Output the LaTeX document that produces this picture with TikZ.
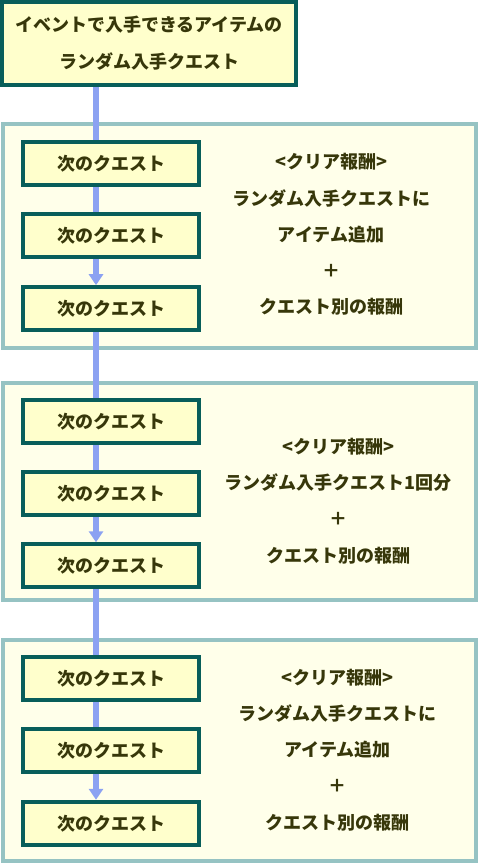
\documentclass[tikz,border=0pt]{standalone}
\usepackage{fontspec}
\newfontfamily\jp{Noto Sans CJK JP}
\usetikzlibrary{arrows.meta}
\definecolor{boxedge}{RGB}{8,94,90}
\definecolor{boxfill}{RGB}{255,255,204}
\definecolor{paneledge}{RGB}{150,195,195}
\definecolor{panelfill}{RGB}{255,255,234}
\definecolor{flowblue}{RGB}{140,162,242}
\definecolor{txt}{RGB}{55,55,10}
\begin{document}
\begin{tikzpicture}[x=1pt,y=-1pt,
  quest/.style={draw=boxedge,line width=4pt,fill=boxfill,minimum width=176pt,minimum height=43pt,inner sep=0pt,font=\jp\bfseries\fontsize{18}{20}\selectfont,text=txt},
  topbox/.style={draw=boxedge,line width=4pt,fill=boxfill,minimum width=294pt,minimum height=83pt,inner sep=0pt,align=center,font=\jp\bfseries\fontsize{18}{37}\selectfont,text=txt},
  panel/.style={draw=paneledge,line width=4pt,fill=panelfill},
  flow/.style={draw=flowblue,line width=5.5pt},
  flowarrow/.style={flow,-{Triangle[width=14pt,length=11pt]}},
  note/.style={align=center,font=\jp\bfseries\fontsize{18}{36.2}\selectfont,text=txt,inner sep=0pt}]
\useasboundingbox (0,0) rectangle (479,864);
\fill[white] (0,0) rectangle (479,864);
% panels
\path[panel] (3,124) rectangle (476,348);
\path[panel] (3,383) rectangle (476,600);
\path[panel] (3,640) rectangle (476,861);
% top box
\node[topbox] (top) at (149,43.5) {イベントで入手できるアイテムの\\ランダム入手クエスト};
% quest boxes
\node[quest] (p1a) at (111,163.5) {次のクエスト};
\node[quest] (p1b) at (111,235.7) {次のクエスト};
\node[quest] (p1c) at (111,308.7) {次のクエスト};
\node[quest] (p2a) at (111,421.7) {次のクエスト};
\node[quest] (p2b) at (111,493.3) {次のクエスト};
\node[quest] (p2c) at (111,565.8) {次のクエスト};
\node[quest] (p3a) at (111,678.3) {次のクエスト};
\node[quest] (p3b) at (111,750.3) {次のクエスト};
\node[quest] (p3c) at (111,823.3) {次のクエスト};
% notes
\node[note] (n1) at (331,234.5) {<クリア報酬>\\ランダム入手クエストに\\アイテム追加\\＋\\クエスト別の報酬};
\node[note] (n2) at (338,501) {<クリア報酬>\\ランダム入手クエスト1回分\\＋\\クエスト別の報酬};
\node[note] (n3) at (337.5,750) {<クリア報酬>\\ランダム入手クエストに\\アイテム追加\\＋\\クエスト別の報酬};
% flow
\coordinate (lx) at (96,0);
\draw[flow] (top.south -| lx) -- (p1a.north -| lx);
\draw[flow] (p1a.south -| lx) -- (p1b.north -| lx);
\draw[flowarrow] (p1b.south -| lx) -- (p1c.north -| lx);
\draw[flow] (p1c.south -| lx) -- (p2a.north -| lx);
\draw[flow] (p2a.south -| lx) -- (p2b.north -| lx);
\draw[flowarrow] (p2b.south -| lx) -- (p2c.north -| lx);
\draw[flow] (p2c.south -| lx) -- (p3a.north -| lx);
\draw[flow] (p3a.south -| lx) -- (p3b.north -| lx);
\draw[flowarrow] (p3b.south -| lx) -- (p3c.north -| lx);
\end{tikzpicture}
\end{document}
